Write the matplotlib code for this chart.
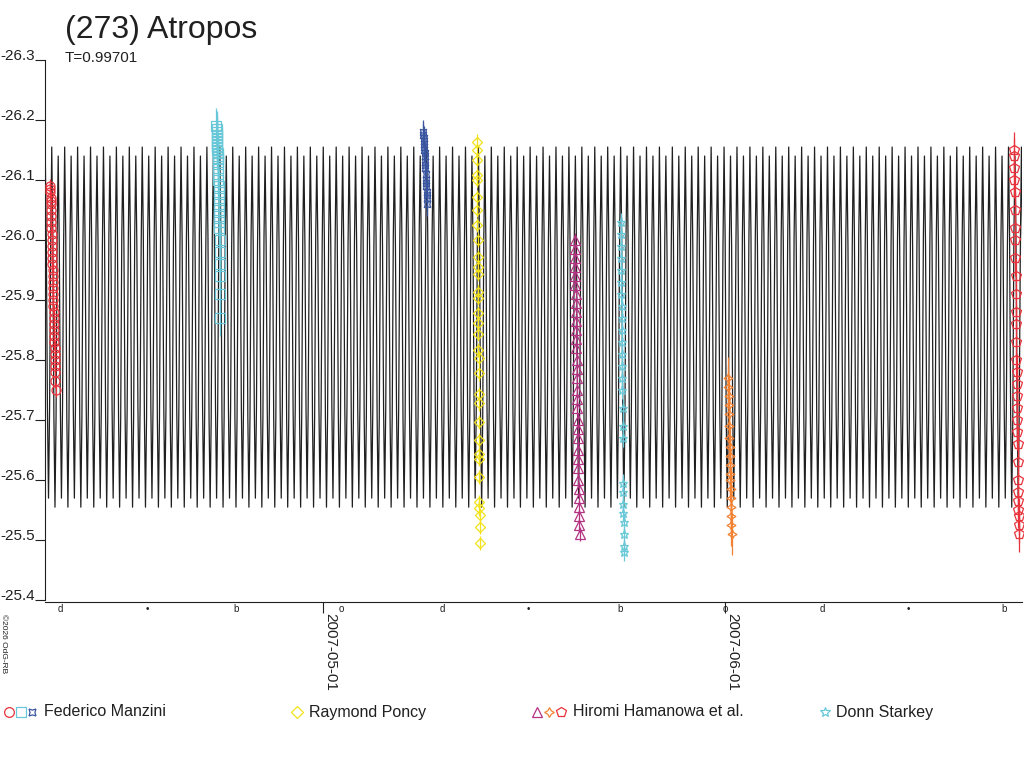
#!/usr/bin/env python3

import datetime as dt
import numpy as np
import matplotlib
matplotlib.use("Agg")
import matplotlib.pyplot as plt
import matplotlib.dates as mdates

plt.rcParams['font.family'] = ['Liberation Sans', 'DejaVu Sans']
plt.rcParams['axes.unicode_minus'] = False

# reference epoch for all times below (days after 2007-05-01 00:00)
EPOCH = dt.datetime(2007, 5, 1)

# model lightcurve: one rotation, 12 phase steps
period = 0.99701
t_max = -20.92
profile = [-26.155, -26.005, -25.705, -25.555, -25.705, -26.005,
           -26.140, -25.990, -25.720, -25.570, -25.720, -25.990]

# observations (time in days after 2007-05-01, reduced magnitude)
manzini_a_t = [-21.05, -21.04, -21.03, -21.01, -21.00, -20.99, -20.98, -20.97,
               -20.95, -20.94, -20.93, -20.92, -20.91, -20.89, -20.88, -20.87,
               -20.86, -20.85, -20.83, -20.82, -20.81, -20.80, -20.79, -20.77,
               -20.76, -20.75, -20.74, -20.73, -20.71, -20.70, -20.69, -20.68,
               -20.67, -20.65, -20.64, -20.63]
manzini_a_m = [-26.090, -26.085, -26.080, -26.070, -26.065, -26.060, -26.050, -26.040,
               -26.030, -26.020, -26.010, -26.000, -25.990, -25.980, -25.970, -25.960,
               -25.950, -25.940, -25.930, -25.920, -25.910, -25.900, -25.890, -25.880,
               -25.870, -25.860, -25.850, -25.840, -25.830, -25.820, -25.810, -25.800,
               -25.790, -25.780, -25.765, -25.750]

manzini_b_t = [-8.22, -8.21, -8.20, -8.19, -8.18, -8.17, -8.16, -8.15, -8.14, -8.13,
               -8.12, -8.11, -8.10, -8.09, -8.08, -8.07, -8.06, -8.05, -8.04, -8.03,
               -8.02, -8.01, -8.00, -7.99, -7.98, -7.97, -7.96, -7.95, -7.94, -7.93]
manzini_b_m = [-26.190, -26.185, -26.180, -26.175, -26.170, -26.165, -26.160, -26.155,
               -26.150, -26.145, -26.140, -26.135, -26.130, -26.120, -26.110, -26.100,
               -26.090, -26.080, -26.070, -26.060, -26.050, -26.040, -26.030, -26.020,
               -26.000, -25.980, -25.960, -25.940, -25.910, -25.870]

manzini_c_t = [7.72, 7.74, 7.75, 7.77, 7.79, 7.80, 7.82, 7.84, 7.85, 7.87,
               7.89, 7.90, 7.92, 7.94, 7.95, 7.97, 7.99, 8.00, 8.02, 8.04]
manzini_c_m = [-26.180, -26.175, -26.170, -26.165, -26.160, -26.155, -26.150, -26.145,
               -26.140, -26.130, -26.125, -26.120, -26.110, -26.100, -26.095, -26.090,
               -26.080, -26.075, -26.070, -26.060]

poncy_t = [11.85, 11.86, 11.87, 11.88, 11.88, 11.89, 11.90, 11.91, 11.92, 11.92,
           11.93, 11.94, 11.95, 11.95, 11.96, 11.97, 11.97, 11.98, 11.99, 12.00,
           12.00, 12.01, 12.02, 12.03, 12.03, 12.04, 12.05, 12.05, 12.06, 12.07,
           12.08, 12.09]
poncy_m = [-26.164, -26.150, -26.133, -26.108, -26.100, -26.072, -26.050, -26.025,
           -26.000, -25.972, -25.955, -25.944, -25.914, -25.903, -25.878, -25.861,
           -25.844, -25.817, -25.803, -25.778, -25.744, -25.728, -25.697, -25.667,
           -25.644, -25.636, -25.605, -25.564, -25.553, -25.542, -25.522, -25.495]

hamanowa_a_t = [19.40, 19.41, 19.42, 19.44, 19.45, 19.46, 19.47, 19.48, 19.50, 19.51,
                19.52, 19.53, 19.54, 19.56, 19.57, 19.58, 19.59, 19.60, 19.62, 19.63,
                19.64, 19.65, 19.66, 19.68, 19.69, 19.70, 19.71, 19.72, 19.74, 19.75,
                19.76, 19.78]
hamanowa_a_m = [-26.000, -25.985, -25.970, -25.955, -25.940, -25.925, -25.910, -25.895,
                -25.880, -25.865, -25.850, -25.835, -25.820, -25.800, -25.785, -25.770,
                -25.750, -25.735, -25.720, -25.700, -25.685, -25.670, -25.650, -25.635,
                -25.620, -25.600, -25.585, -25.570, -25.555, -25.540, -25.525, -25.510]

starkey_t = [22.95, 22.96, 22.97, 22.98, 22.99, 23.00, 23.01, 23.02, 23.03, 23.04,
             23.05, 23.06, 23.07, 23.08, 23.09, 23.10, 23.11, 23.12, 23.14, 23.15,
             23.16, 23.17, 23.18, 23.19, 23.20, 23.21]
starkey_m = [-26.030, -26.010, -25.990, -25.970, -25.950, -25.930, -25.910, -25.890,
             -25.870, -25.850, -25.830, -25.810, -25.790, -25.770, -25.750, -25.720,
             -25.690, -25.670, -25.595, -25.580, -25.560, -25.545, -25.530, -25.510,
             -25.490, -25.480]

hamanowa_b_t = [31.25, 31.26, 31.28, 31.29, 31.31, 31.32, 31.34, 31.35, 31.37,
                31.38, 31.40, 31.41, 31.43, 31.44, 31.46, 31.47, 31.49, 31.50]
hamanowa_b_m = [-25.770, -25.755, -25.740, -25.725, -25.710, -25.690, -25.670, -25.655,
                -25.640, -25.625, -25.610, -25.600, -25.585, -25.570, -25.555, -25.540,
                -25.525, -25.510]

hamanowa_c_t = [53.28, 53.29, 53.30, 53.32, 53.33, 53.34, 53.36, 53.37, 53.38, 53.40,
                53.41, 53.42, 53.44, 53.45, 53.46, 53.48, 53.49, 53.50, 53.52, 53.53,
                53.54, 53.56, 53.57, 53.58, 53.60, 53.61, 53.62, 53.64, 53.65, 53.66]
hamanowa_c_m = [-26.150, -26.140, -26.120, -26.100, -26.080, -26.050, -26.020, -26.000,
                -25.970, -25.940, -25.910, -25.880, -25.860, -25.830, -25.800, -25.780,
                -25.760, -25.740, -25.720, -25.700, -25.680, -25.660, -25.630, -25.600,
                -25.580, -25.565, -25.550, -25.540, -25.525, -25.510]

# moon phases (days after 2007-05-01) and the glyph used for them
moon_t = [-20.25, -13.52, -6.72, 1.42, 9.19, 15.81, 22.88, 31.04, 38.49, 45.13, 52.55]
moon_s = ['d', '\u2022', 'b', 'o', 'd', '\u2022', 'b', 'o', 'd', '\u2022', 'b']


def to_num(days):
    return mdates.date2num(EPOCH) + np.asarray(days, dtype=float)


def main():
    fig = plt.figure(figsize=(10.24, 7.68), dpi=100)
    ax = fig.add_axes([45 / 1024, 1 - 602 / 768, 977 / 1024, 542 / 768])

    # model curve, one profile per rotation
    n_rot = 78
    phase = np.arange(len(profile)) / len(profile)
    cycles = np.arange(-2, n_rot)
    curve_t = t_max + period * (cycles[:, None] + phase[None, :]).ravel()
    curve_m = np.tile(profile, len(cycles))
    ax.plot(to_num(curve_t), curve_m, color='#202020', lw=0.9, zorder=2)

    series = [
        (manzini_a_t, manzini_a_m, 'o', '#e8333c', 0.012),
        (manzini_b_t, manzini_b_m, 's', '#68c8d8', 0.03),
        (manzini_c_t, manzini_c_m, (4, 1, 45), '#3a55a0', 0.02),
        (poncy_t, poncy_m, 'D', '#f2e21a', 0.012),
        (hamanowa_a_t, hamanowa_a_m, '^', '#b43282', 0.012),
        (starkey_t, starkey_m, '*', '#68c8d8', 0.015),
        (hamanowa_b_t, hamanowa_b_m, (4, 1, 0), '#f28232', 0.035),
        (hamanowa_c_t, hamanowa_c_m, 'p', '#e8333c', 0.03),
    ]
    for t, m, mk, col, err in series:
        x = to_num(t)
        ax.errorbar(x, m, yerr=err, fmt='none', ecolor=col, elinewidth=0.9,
                    zorder=3, clip_on=False)
        ms = 5.5 if mk == 'D' else 6.5
        if mk == 'p':
            ms = 7.5
        ax.plot(x, m, ls='none', marker=mk, ms=ms, mfc='none', mec=col,
                mew=0.9, zorder=4, clip_on=False)

    ax.set_xlim(to_num(-21.44), to_num(53.9))
    ax.set_ylim(-25.397, -26.3)

    for side in ['top', 'right']:
        ax.spines[side].set_visible(False)
    ax.spines['left'].set_bounds(-26.3, -25.4)
    ax.spines['left'].set_color('#202020')
    ax.spines['bottom'].set_color('#202020')

    ax.set_yticks(np.round(np.arange(-26.3, -25.35, 0.1), 1))
    ax.yaxis.set_major_formatter(plt.FormatStrFormatter('%.1f'))
    ax.tick_params(axis='y', direction='out', length=7, pad=0,
                   labelsize=11, colors='#202020')
    for lab in ax.get_yticklabels():
        lab.set_verticalalignment('baseline')

    ax.set_xticks(mdates.date2num([dt.datetime(2007, 5, 1), dt.datetime(2007, 6, 1)]))
    ax.set_xticklabels(['2007-05-01', '2007-06-01'])
    ax.tick_params(axis='x', direction='out', length=8, pad=0,
                   labelsize=11, colors='#202020')
    for lab in ax.get_xticklabels():
        lab.set_rotation(270)
        lab.set_horizontalalignment('left')
        lab.set_verticalalignment('top')

    # moon phases just under the axis
    for t, s in zip(moon_t, moon_s):
        ax.text(to_num(t), -0.004, s, transform=ax.get_xaxis_transform(),
                ha='center', va='top', fontsize=7, color='#202020')

    fig.text(65 / 1024, 1 - 30 / 768, '(273) Atropos', fontsize=23,
             color='#202020', va='center', ha='left')
    fig.text(65 / 1024, 1 - 58 / 768, 'T=0.99701', fontsize=11,
             color='#202020', va='center', ha='left')
    fig.text(3 / 1024, 1 - 644 / 768, '\u00a92026 OdG-RB', fontsize=6,
             rotation=270, color='#202020', va='center', ha='center')

    # legend row at the bottom
    ly = 1 - 712 / 768
    legend = [
        ([(9, 'o', '#e8333c'), (21, 's', '#68c8d8'), (32, (4, 1, 45), '#3a55a0')],
         44, 'Federico Manzini'),
        ([(297, 'D', '#f2e21a')], 309, 'Raymond Poncy'),
        ([(537, '^', '#b43282'), (549, (4, 1, 0), '#f28232'), (561, 'p', '#e8333c')],
         573, 'Hiromi Hamanowa et al.'),
        ([(825, '*', '#68c8d8')], 836, 'Donn Starkey'),
    ]
    for marks, tx, label in legend:
        for mx, mk, col in marks:
            ms = 6 if mk == 'D' else 7
            fig.lines.append(plt.Line2D([mx / 1024], [ly], ls='none', marker=mk,
                                        ms=ms, mfc='none', mec=col, mew=0.9,
                                        transform=fig.transFigure))
        fig.text(tx / 1024, ly, label, fontsize=11.5, color='#202020',
                 va='center', ha='left')

    fig.savefig('out.png', dpi=100)


if __name__ == "__main__":
    main()
